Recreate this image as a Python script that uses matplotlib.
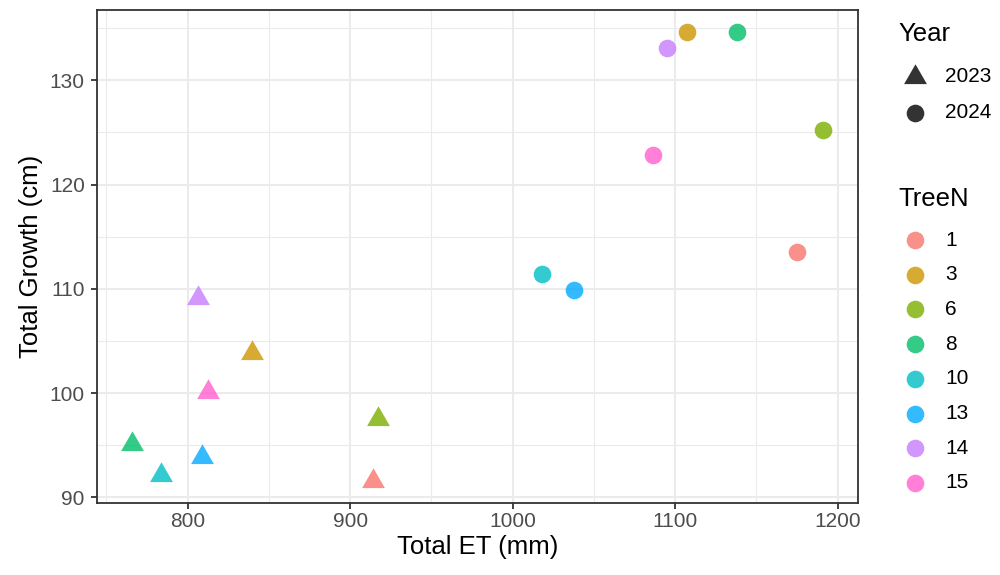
import matplotlib
matplotlib.use("Agg")
import matplotlib.pyplot as plt
from matplotlib.path import Path
from matplotlib.lines import Line2D
from matplotlib.ticker import MultipleLocator

plt.rcParams['font.family'] = ['Liberation Sans', 'DejaVu Sans']

# Tree identifiers and their hue colours
trees = ["1", "3", "6", "8", "10", "13", "14", "15"]
tree_colors = ["#F8766D", "#CD9600", "#7CAE00", "#00BE67",
               "#00BFC4", "#00A9FF", "#C77CFF", "#FF61CC"]

# 2023 season
et_2023 = [913.8, 839.6, 917.0, 765.5, 783.3, 808.9, 806.3, 812.5]
growth_2023 = [91.6, 103.8, 97.5, 95.1, 92.1, 93.9, 109.1, 100.1]

# 2024 season
et_2024 = [1175.2, 1107.3, 1191.2, 1138.3, 1018.2, 1037.7, 1094.9, 1086.3]
growth_2024 = [113.5, 134.6, 125.2, 134.6, 111.4, 109.9, 133.1, 122.8]

years = ["2023", "2024"]
x_ticks = [800, 900, 1000, 1100, 1200]
y_ticks = [90, 100, 110, 120, 130]

# triangle centred on its centroid
tri = Path([(0, 1), (-0.866, -0.5), (0.866, -0.5), (0, 1)],
           [Path.MOVETO, Path.LINETO, Path.LINETO, Path.CLOSEPOLY])

TICK_FS = 15
TITLE_FS = 18.5

fig = plt.figure(figsize=(10, 5.75), dpi=100)
ax = fig.add_axes([0.097, 0.1252, 0.761, 0.8574])

alpha = 0.8
for x, y, c in zip(et_2023, growth_2023, tree_colors):
    ax.plot(x, y, marker=tri, markersize=19, color=c, alpha=alpha,
            markeredgewidth=0, linestyle="none", zorder=3)
for x, y, c in zip(et_2024, growth_2024, tree_colors):
    ax.plot(x, y, marker="o", markersize=12.7, color=c, alpha=alpha,
            markeredgewidth=0, linestyle="none", zorder=3)

allx = et_2023 + et_2024
ally = growth_2023 + growth_2024
xr = max(allx) - min(allx)
yr = max(ally) - min(ally)
ax.set_xlim(min(allx) - 0.05 * xr, max(allx) + 0.05 * xr)
ax.set_ylim(min(ally) - 0.05 * yr, max(ally) + 0.05 * yr)

ax.set_xticks(x_ticks)
ax.set_yticks(y_ticks)
ax.xaxis.set_minor_locator(MultipleLocator(50))
ax.yaxis.set_minor_locator(MultipleLocator(5))
ax.grid(True, which="major", color="#EBEBEB", linewidth=1.5, zorder=0)
ax.grid(True, which="minor", color="#EBEBEB", linewidth=0.8, zorder=0)
ax.set_axisbelow(True)
for s in ax.spines.values():
    s.set_color("#333333")
    s.set_linewidth(1.3)
ax.tick_params(which="major", length=4.3, width=1.3, color="#333333",
               labelsize=TICK_FS, labelcolor="#4D4D4D")
ax.tick_params(axis="x", pad=2)
ax.tick_params(axis="y", pad=4.5)
ax.tick_params(which="minor", length=0)

ax.set_xlabel("Total ET (mm)", fontsize=TITLE_FS, color="black", labelpad=3)
ax.set_ylabel("Total Growth (cm)", fontsize=TITLE_FS, color="black", labelpad=5)

# legends
def fx(px):
    return px / 1000.0

def fy(py):
    return 1 - py / 575.0

fig.text(fx(898), fy(34), "Year", fontsize=TITLE_FS, va="center", ha="left")
year_markers = [tri, "o"]
year_sizes = [19, 12.7]
for i, (lab, mk, ms) in enumerate(zip(years, year_markers, year_sizes)):
    yy = fy(77 + 36 * i)
    fig.add_artist(Line2D([fx(915)], [yy], marker=mk, markersize=ms,
                          color="black", alpha=alpha, markeredgewidth=0,
                          linestyle="none", transform=fig.transFigure))
    fig.text(fx(945), yy, lab, fontsize=TICK_FS, va="center", ha="left")

fig.text(fx(898), fy(199), "TreeN", fontsize=TITLE_FS, va="center", ha="left")
for i, (lab, c) in enumerate(zip(trees, tree_colors)):
    yy = fy(240 + 34.7 * i)
    fig.add_artist(Line2D([fx(915)], [yy], marker="o", markersize=12.7,
                          color=c, alpha=alpha, markeredgewidth=0,
                          linestyle="none", transform=fig.transFigure))
    fig.text(fx(945), yy, lab, fontsize=TICK_FS, va="center", ha="left")

fig.savefig("out.png", dpi=100)
